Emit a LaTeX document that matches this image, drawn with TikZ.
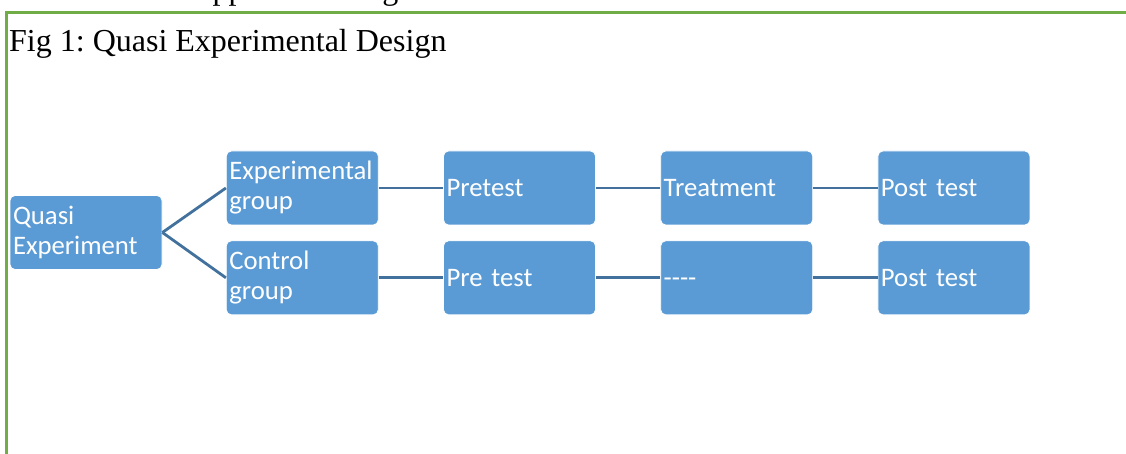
\documentclass[tikz,border=0pt]{standalone}
\usepackage{fontspec}
\setmainfont{Liberation Serif}
\newfontfamily\boxfont{Carlito}
\usetikzlibrary{positioning}
\definecolor{boxblue}{HTML}{5B9BD5}
\definecolor{lineblue}{HTML}{41719C}
\definecolor{framegreen}{HTML}{70AD47}
\frenchspacing

\begin{document}
\begin{tikzpicture}[x=1pt,y=1pt,node distance=15pt and 64.4pt,box/.style={draw=white,line width=0.8pt,fill=boxblue,rounded corners=5pt,minimum width=152pt,minimum height=74pt,text width=146pt,inner xsep=3pt,align=left,text=white,font=\boxfont\fontsize{26.7}{30}\selectfont},link/.style={draw=lineblue,line width=2.8pt}]
\useasboundingbox (0,0) rectangle (1126,-454);
\begin{scope}
\clip (0,0) rectangle (1126,-454);
\node[anchor=base west,inner sep=0pt,font=\fontsize{32}{38}\selectfont] (head) at (64,0.8) {Research Approach Design};
\end{scope}
\draw[framegreen,line width=3pt] (6.7,-454) -- (6.7,-12.5) -- (1126,-12.5);
\node[anchor=base west,inner sep=0pt,font=\fontsize{32}{38}\selectfont] (title) at (9,-52) {Fig 1: Quasi Experimental Design};
\node[box] (quasi) at (86,-232.5) {Quasi\\Experiment};
\node[box,right=63.5pt of quasi,yshift=44.5pt] (eg) {Experimental\\group};
\node[box,below=of eg] (cg) {Control\\group};
\node[box,right=of eg] (pre1) {Pretest};
\node[box,right=of cg] (pre2) {Pre test};
\node[box,right=of pre1] (treat) {Treatment};
\node[box,right=of pre2] (none) {----\vphantom{Post}};
\node[box,right=of treat] (post1) {Post test};
\node[box,right=of none] (post2) {Post test};
\draw[link] (quasi.east) -- (eg.west);\draw[link] (quasi.east) -- (cg.west);
\draw[link] (eg) -- (pre1);\draw[link] (pre1) -- (treat);\draw[link] (treat) -- (post1);
\draw[link] (cg) -- (pre2);\draw[link] (pre2) -- (none);\draw[link] (none) -- (post2);
\end{tikzpicture}
\end{document}
